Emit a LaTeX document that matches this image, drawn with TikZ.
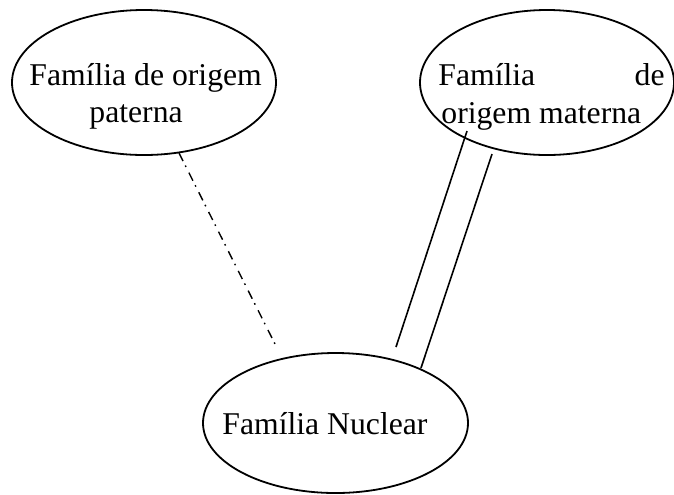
\documentclass[tikz,border=0pt]{standalone}
\usepackage{fontspec}
\setmainfont{Liberation Serif}
\usetikzlibrary{shapes.geometric}
\begin{document}
\begin{tikzpicture}[x=0.5pt,y=-0.5pt,
  family/.style={draw, ellipse, line width=0.9pt, inner sep=0pt},
  lbl/.style={inner sep=0pt, font=\fontsize{15.85pt}{19pt}\selectfont},
  tie/.style={line width=0.8pt},
  weaktie/.style={line width=0.7pt, dash pattern=on 4.5pt off 2.5pt on 0.8pt off 3.2pt}]
\useasboundingbox (0,0) rectangle (674,494);

% the three families
\node[family, minimum width=132pt, minimum height=72.5pt] (pat) at (144,82.5) {};
\node[family, minimum width=127pt, minimum height=72.5pt] (mat) at (547,82.5) {};
\node[family, minimum width=132.5pt, minimum height=70pt] (nuc) at (335.5,423) {};

% labels
\node[lbl, anchor=base west] (pat1) at (29,85) {Família de origem};
\node[lbl, anchor=base west] (pat2) at (89,122) {paterna};
\node[lbl, anchor=base west] (mat1a) at (438,85) {Família};
\node[lbl, anchor=base east] (mat1b) at (665,85) {de};
\node[lbl, anchor=base west] (mat2) at (441,123) {origem materna};
\node[lbl, anchor=base west] (nuc1) at (222,434) {Família Nuclear};

% connector ends
\coordinate (pa) at (179,153);
\coordinate (pb) at (275,344);
\coordinate (ma1) at (467,131);
\coordinate (mb1) at (396,347);
\coordinate (ma2) at (492,154);
\coordinate (mb2) at (421,368);

% paternal tie (dash-dot) and maternal tie (double)
\draw[weaktie] (pa) -- (pb);
\draw[tie] (ma1) -- (mb1);
\draw[tie] (ma2) -- (mb2);
\end{tikzpicture}
\end{document}
